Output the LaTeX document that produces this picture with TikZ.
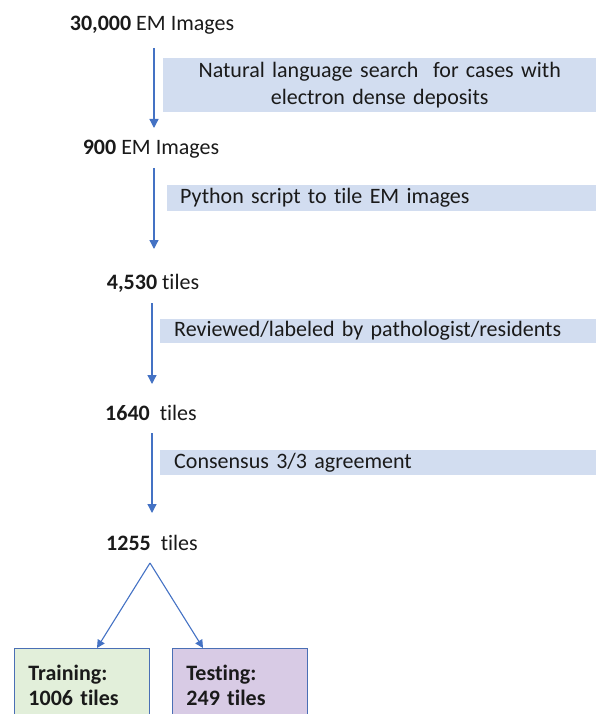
\documentclass[tikz,border=0pt]{standalone}
\usepackage{fontspec}
\setmainfont{Carlito}[Ligatures=NoCommon]
\usetikzlibrary{arrows.meta,calc}
\definecolor{arrowblue}{HTML}{4472C4}
\definecolor{stepfill}{HTML}{D2DDF0}
\definecolor{trainfill}{HTML}{E2EFDA}
\definecolor{testfill}{HTML}{D8CBE5}
\definecolor{boxline}{HTML}{4A6FB5}
\definecolor{ink}{HTML}{1A1A1A}
\begin{document}
\begin{tikzpicture}[x=1pt,y=-1pt,
  font=\fontsize{22}{27}\selectfont, text=ink,
  count/.style={inner sep=0pt, anchor=center},
  stepbox/.style={fill=stepfill, anchor=north west, inner ysep=0pt},
  flow/.style={draw=arrowblue, line width=1.3pt, -{Triangle[width=9pt,length=9pt]}},
  fork/.style={draw=arrowblue, line width=1.1pt, -{Triangle[width=8pt,length=8pt]}},
  splitbox/.style={draw=boxline, line width=0.9pt, anchor=north west, inner xsep=14pt,
    inner ysep=0pt, text width=107pt, minimum height=73pt, align=left,
    font=\fontsize{22}{25}\selectfont\bfseries}]
\useasboundingbox (0,0) rectangle (596,714);

% counts
\node[count] (n1) at (152,25) {\textbf{30,000} EM Images};
\node[count] (n2) at (151,149) {\textbf{900} EM Images};
\node[count] (n3) at (153,283) {\textbf{4,530} tiles};
\node[count] (n4) at (151,413) {\textbf{1640}\ \ tiles};
\node[count] (n5) at (152,543) {\textbf{1255}\ \ tiles};

% step boxes
\node[stepbox, inner xsep=0pt, text width=433pt, minimum height=54pt, align=center]
  (s1) at (163,58) {Natural language search\ \ for cases with\\electron dense deposits};
\node[stepbox, inner xsep=13pt, text width=403pt, minimum height=26pt, align=left]
  (s2) at (167,185) {Python script to tile EM images};
\node[stepbox, inner xsep=14pt, text width=408pt, minimum height=24pt, align=left]
  (s3) at (160,319) {Reviewed/labeled by pathologist/residents};
\node[stepbox, inner xsep=14pt, text width=408pt, minimum height=25pt, align=left]
  (s4) at (160,450) {Consensus 3/3 agreement};

% arrows
\draw[flow] ($(n1.center)+(2,23)$) -- ($(n2.center)+(3,-21)$);
\draw[flow] ($(n2.center)+(3,19)$) -- ($(n3.center)+(1,-34)$);
\draw[flow] ($(n3.center)+(-1,20)$) -- ($(n4.center)+(1,-29)$);
\draw[flow] ($(n4.center)+(1,20)$) -- ($(n5.center)+(0,-30)$);

% split
\coordinate (split) at ($(n5.center)+(-2,20)$);
\node[splitbox, fill=trainfill] (train) at (14,648) {Training:\\1006 tiles};
\node[splitbox, fill=testfill] (test) at (172,648) {Testing:\\249 tiles};
\draw[fork] (split) -- ($(train.north west)+(83,0)$);
\draw[fork] (split) -- ($(test.north west)+(31,0)$);
\end{tikzpicture}
\end{document}
